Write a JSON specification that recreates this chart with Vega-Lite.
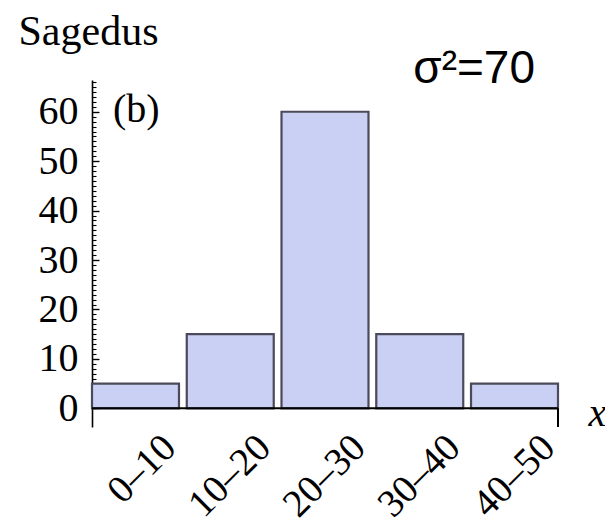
{
  "$schema": "https://vega.github.io/schema/vega-lite/v6.json",
  "width": 466,
  "height": 347,
  "autosize": {"type": "none"},
  "padding": {"left": 92, "top": 80, "right": 47, "bottom": 98},
  "background": "white",
  "config": {"view": {"stroke": null}},
  "resolve": {"axis": {"y": "independent"}},
  "data": {"values": [
    {"interval": "0–10", "freq": 5},
    {"interval": "10–20", "freq": 15},
    {"interval": "20–30", "freq": 60},
    {"interval": "30–40", "freq": 15},
    {"interval": "40–50", "freq": 5}
  ]},
  "layer": [
    {
      "mark": {"type": "bar", "fill": "#c9d0f3", "stroke": "#4a4a5a", "strokeWidth": 2.2},
      "encoding": {
        "x": {
          "field": "interval", "type": "nominal", "sort": null,
          "scale": {"paddingInner": 0.082, "paddingOuter": 0},
          "axis": {
            "title": "x", "ticks": false, "domain": false,
            "labelAngle": -45, "labelAlign": "right", "labelBaseline": "middle",
            "labelPadding": 14, "labelOffset": 34,
            "labelFont": "Liberation Serif", "labelFontSize": 39, "labelColor": "black",
            "labelOverlap": false, "labelBound": false,
            "titleFont": "Liberation Serif", "titleFontStyle": "italic", "titleFontSize": 40,
            "titleFontWeight": "normal", "titleColor": "black",
            "titleX": 496, "titleY": -2, "titleAlign": "left", "titleBaseline": "alphabetic"
          }
        },
        "y": {
          "field": "freq", "type": "quantitative",
          "scale": {"domain": [-3.78, 66.42], "nice": false, "zero": false},
          "axis": {
            "orient": "left", "title": "Sagedus", "grid": false,
            "values": [0, 10, 20, 30, 40, 50, 60],
            "tickSize": -7, "tickColor": "black", "tickWidth": 1.4,
            "domainColor": "black", "domainWidth": 1.6,
            "labelFont": "Liberation Serif", "labelFontSize": 40, "labelColor": "black",
            "labelPadding": 21, "labelOverlap": false, "labelFlush": false, "labelBound": false,
            "titleFont": "Liberation Serif", "titleFontSize": 42, "titleFontWeight": "normal", "titleColor": "black",
            "titleAngle": 0, "titleAlign": "left", "titleBaseline": "alphabetic",
            "titleX": -74, "titleY": -36
          }
        },
        "y2": {"datum": 0}
      }
    },
    {
      "data": {"values": [{}]},
      "mark": {"type": "rule", "color": "black", "strokeWidth": 2},
      "encoding": {
        "y": {
          "datum": 0,
          "axis": {
            "orient": "left", "title": null, "grid": false, "domain": false, "labels": false,
            "values": [0,1,2,3,4,5,6,7,8,9,11,12,13,14,15,16,17,18,19,21,22,23,24,25,26,27,28,29,31,32,33,34,35,36,37,38,39,41,42,43,44,45,46,47,48,49,51,52,53,54,55,56,57,58,59,61,62,63,64,65,66],
            "tickSize": -4, "tickColor": "black", "tickWidth": 1.1
          }
        }
      }
    },
    {
      "data": {"values": [{}]},
      "mark": {"type": "rule", "color": "black", "strokeWidth": 2},
      "encoding": {
        "x": {"datum": "40–50", "bandPosition": 1},
        "y": {"datum": 0, "axis": null},
        "y2": {"datum": -3.78}
      }
    },
    {
      "data": {"values": [{}]},
      "mark": {"type": "text", "text": "(b)", "font": "Liberation Serif", "fontSize": 40, "align": "left", "baseline": "alphabetic", "dx": 21, "color": "black"},
      "encoding": {"x": {"datum": "0–10", "bandPosition": 0}, "y": {"datum": 57.9, "axis": null}}
    },
    {
      "data": {"values": [{}]},
      "mark": {"type": "text", "text": "σ²=70", "font": "Liberation Sans", "fontSize": 46, "align": "left", "baseline": "alphabetic", "dx": 37, "color": "black"},
      "encoding": {"x": {"datum": "30–40", "bandPosition": 0}, "y": {"datum": 65.8, "axis": null}}
    }
  ]
}
